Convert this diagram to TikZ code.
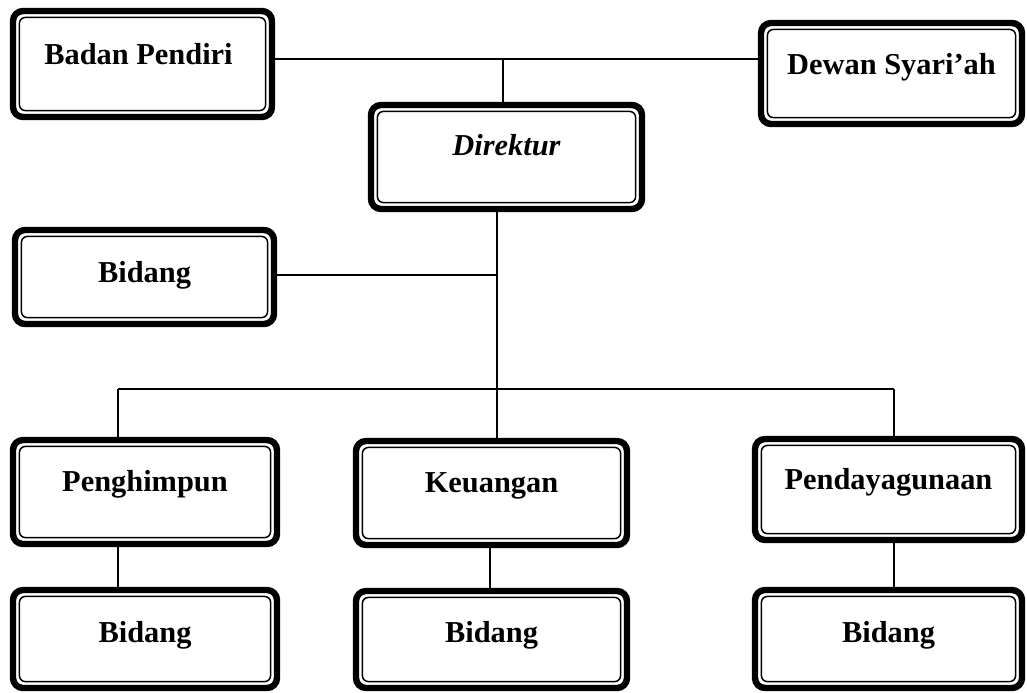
\documentclass[tikz,border=0pt]{standalone}
\usepackage{fontspec}
\setmainfont{Liberation Serif}
\begin{document}
\begin{tikzpicture}[x=0.5pt,y=-0.5pt,
  box/.style={draw, line width=3.2pt, rounded corners=5pt, inner sep=0pt,
    path picture={\draw[line width=0.75pt, rounded corners=3pt]
      ([shift={(3.2pt,3.2pt)}]path picture bounding box.south west) rectangle
      ([shift={(-3.2pt,-3.2pt)}]path picture bounding box.north east);}},
  lbl/.style={anchor=base, inner sep=0pt, font=\fontsize{15.2}{17}\selectfont\bfseries},
  con/.style={line width=0.9pt}]
\useasboundingbox (0,0) rectangle (1027,692);
% boxes
\node[box, minimum width=129.5pt, minimum height=53pt]   (bp)  at (142.5,64)   {};
\node[box, minimum width=130.5pt, minimum height=50.5pt] (ds)  at (891.5,73.5) {};
\node[box, minimum width=135.5pt, minimum height=52pt]   (dir) at (506.5,157)  {};
\node[box, minimum width=129.5pt, minimum height=47pt]   (bm)  at (144.5,277)  {};
\node[box, minimum width=132pt,   minimum height=52pt]   (pen) at (145,492)    {};
\node[box, minimum width=135.5pt, minimum height=52pt]   (keu) at (491.5,493)  {};
\node[box, minimum width=133.5pt, minimum height=50.5pt] (pdy) at (888.5,489.5){};
\node[box, minimum width=132pt,   minimum height=49pt]   (b1)  at (145,639)    {};
\node[box, minimum width=135.5pt, minimum height=48.5pt] (b2)  at (491.5,639.5){};
\node[box, minimum width=133.5pt, minimum height=49pt]   (b3)  at (888.5,639)  {};
% texts
\node[lbl] (bpT)  at ([xshift=-2pt,yshift=-28.5pt]bp.north)  {Badan Pendiri};
\node[lbl] (dsT)  at ([yshift=-27.5pt]ds.north)    {Dewan Syari’ah};
\node[lbl, font=\fontsize{15.2}{17}\selectfont\bfseries\itshape] (dirT) at ([yshift=-27pt]dir.north) {Direktur};
\node[lbl] (bmT)  at ([yshift=-28pt]bm.north)  {Bidang};
\node[lbl] (penT) at ([yshift=-27.5pt]pen.north) {Penghimpun};
\node[lbl] (keuT) at ([yshift=-27.5pt]keu.north) {Keuangan};
\node[lbl] (pdyT) at ([yshift=-27pt]pdy.north)   {Pendayagunaan};
\node[lbl] (b1T)  at ([yshift=-28pt]b1.north)  {Bidang};
\node[lbl] (b2T)  at ([yshift=-27.5pt]b2.north)  {Bidang};
\node[lbl] (b3T)  at ([yshift=-28pt]b3.north)    {Bidang};
% junction coordinates
\coordinate (j1) at (503,59);
\coordinate (j2) at (497,275);
\coordinate (bus) at (497,389);
\coordinate (bl) at (118,389);
\coordinate (br) at (894,389);
\coordinate (kx) at (490,0);
% connectors
\draw[con] (bp.east |- j1) -- (ds.west |- j1);
\draw[con] (j1) -- (dir.north -| j1);
\draw[con] (dir.south -| bus) -- (bus);
\draw[con] (bm.east |- j2) -- (j2);
\draw[con] (bl) -- (br);
\draw[con] (bl) -- (pen.north -| bl);
\draw[con] (bus) -- (keu.north -| bus);
\draw[con] (br) -- (pdy.north -| br);
\draw[con] (pen.south -| bl) -- (b1.north -| bl);
\draw[con] (keu.south -| kx) -- (b2.north -| kx);
\draw[con] (pdy.south -| br) -- (b3.north -| br);
\end{tikzpicture}
\end{document}
